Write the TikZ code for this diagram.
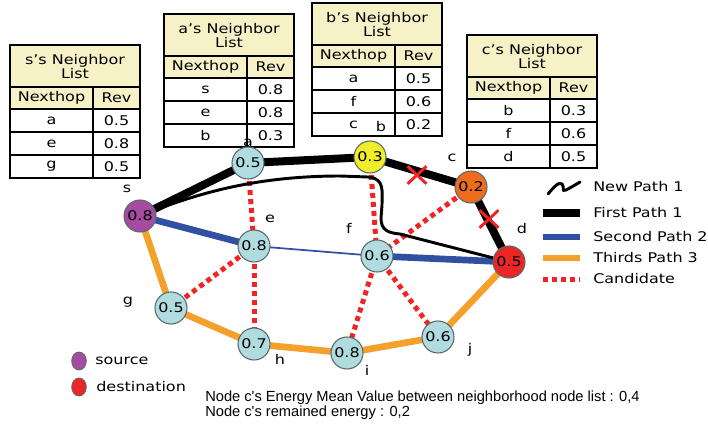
\documentclass[tikz,border=0pt]{standalone}
\usepackage{fontspec}
\setmainfont{DejaVu Sans}[FakeStretch=1.2]
\newfontfamily\notefont{Liberation Sans}
\usepackage{tikz}
\usetikzlibrary{shapes.geometric, shapes.misc, backgrounds, calc}
\definecolor{nodeblue}{HTML}{B0DCE0}
\definecolor{ndline}{HTML}{5A6A6C}
\definecolor{srcpurple}{HTML}{A64CA0}
\definecolor{hopyellow}{HTML}{F0EE2A}
\definecolor{hoporange}{HTML}{EE6C1E}
\definecolor{dstred}{HTML}{EA2626}
\definecolor{pathblue}{HTML}{3050A2}
\definecolor{pathorange}{HTML}{F5A02A}
\definecolor{candred}{HTML}{F02424}
\definecolor{tblhead}{HTML}{F6F1C6}
\newcommand{\nbfont}{\fontsize{10}{10.5}\selectfont}
\tikzset{
  nd/.style={
    circle, minimum size=24pt, inner sep=0pt,
    draw=ndline, line width=0.8pt,
    fill=nodeblue, font=\nbfont,
  },
  lbl/.style={font=\nbfont, inner sep=0pt},
  legtext/.style={font=\nbfont, inner sep=0pt, anchor=west},
  firstpath/.style={line width=6pt, black},
  newpath/.style={line width=2.2pt, black, line cap=round},
  secondpath/.style={line width=5pt, pathblue},
  secondthin/.style={line width=1.3pt, pathblue},
  thirdpath/.style={line width=5pt, pathorange},
  candidate/.style={line width=3.75pt, candred, dash pattern=on 3.75pt off 3pt},
  cutmark/.style={cross out, draw=candred, line width=2.2pt,
    minimum width=12pt, minimum height=11pt, inner sep=0pt},
  tblline/.style={line width=1pt, black},
  tbltext/.style={font=\nbfont, inner sep=0pt},
  keydot/.style={ellipse, minimum width=11pt, minimum height=13.5pt,
    inner sep=0pt, draw=ndline, line width=0.6pt},
}
% neighbor list table: owner, x, y, rows
\newcommand{\nblist}[4]{%
  \begin{scope}[shift={(#2,#3)}]
    \draw[tblline, fill=tblhead] (0,0) rectangle (130,64);
    \draw[tblline, fill=white] (0,64) rectangle (130,133);
    \draw[tblline] (0,42) -- (130,42);
    \draw[tblline] (83,42) -- (83,133);
    \foreach \k in {1,2} \draw[tblline] (0,64+23*\k) -- (130,64+23*\k);
    \draw[line width=1.4pt] (0,0) rectangle (130,133);
    \node[tbltext, align=center] (#1title) at (65,22) {#1’s Neighbor\\List};
    \node[tbltext] (#1hop) at (41.5,53) {Nexthop};
    \node[tbltext] (#1rev) at (106.5,53) {Rev};
    \foreach \hp/\rv [count=\k] in {#4} {
      \node[tbltext] (#1hop\k) at (41.5,64+23*\k-11.5) {\hp};
      \node[tbltext] (#1rev\k) at (106.5,64+23*\k-11.5) {\rv};
    }
  \end{scope}}

\begin{document}
\begin{tikzpicture}[x=0.75pt, y=-0.75pt]
  \useasboundingbox (0,0) rectangle (708,426);

  % neighbor lists
  \nblist{s}{10}{45}{a/0.5, e/0.8, g/0.5}
  \nblist{a}{164}{14}{s/0.8, e/0.8, b/0.3}
  \nblist{b}{312}{3}{a/0.5, f/0.6, c/0.2}
  \nblist{c}{467}{35}{b/0.3, f/0.6, d/0.5}

  % sensor nodes
  \node[nd, fill=srcpurple] (s) at (140,216) {0.8};
  \node[nd] (a) at (248,163) {0.5};
  \node[nd, fill=hopyellow] (b) at (370,157) {0.3};
  \node[nd, fill=hoporange] (c) at (471,187) {0.2};
  \node[nd, fill=dstred] (d) at (509,262) {0.5};
  \node[nd] (e) at (254,246) {0.8};
  \node[nd] (f) at (377,256) {0.6};
  \node[nd] (g) at (171,308) {0.5};
  \node[nd] (h) at (254,344) {0.7};
  \node[nd] (i) at (347,353) {0.8};
  \node[nd] (j) at (438,337) {0.6};

  \node[lbl] (ls) at (127,189) {s};
  \node[lbl] (la) at (248,143) {a};
  \node[lbl] (lb) at (381,127) {b};
  \node[lbl] (lc) at (452,158) {c};
  \node[lbl] (ld) at (522,229) {d};
  \node[lbl] (le) at (270,219) {e};
  \node[lbl] (lf) at (349,228) {f};
  \node[lbl] (lg) at (128,302) {g};
  \node[lbl] (lh) at (280,359) {h};
  \node[lbl] (li) at (367,370) {i};
  \node[lbl] (lj) at (470,350) {j};

  \begin{scope}[on background layer]
    % candidates
    \foreach \u/\v in {a/e, e/g, e/h, b/f, c/f, f/i, f/j}
      \draw[candidate] (\u.center) -- (\v.center);
    % third path
    \draw[thirdpath, line join=round] (s.center) -- (g.center) -- (h.center)
      -- (i.center) -- (j.center) -- (d.center);
    % second path
    \draw[secondpath] (s.center) -- (e.center);
    \draw[secondthin] (e.center) -- (f.center);
    \draw[secondpath] (f.center) -- (d.center);
    % first path
    \draw[firstpath, line join=round] (s.center) -- (a.center) -- (b.center)
      -- (c.center) -- (d.center);
    % new path
    \draw[newpath] (s.center) .. controls (190,196) and (250,176) .. (340,176)
      -- (368,177) .. controls (385,178) and (382,192) .. (382,205)
      -- (381,218) .. controls (381,230) and (388,233) .. (400,234) -- (d.center);
  \end{scope}

  % broken links
  \node[cutmark] (cutbc) at (417,175) {};
  \node[cutmark] (cutcd) at (489,219) {};

  % legend
  \coordinate (nw1) at (548,194);
  \coordinate (nw2) at (580,182);
  \draw[newpath] (nw1) .. controls (553,188) and (559,181) .. (562,184)
    .. controls (565,187) and (561,192) .. (566,190)
    .. controls (570,188) and (575,185) .. (nw2);
  \node[legtext] (kt0) at (593,187) {New Path 1};
  \foreach \sty/\yy/\txt [count=\k] in {firstpath/213/First Path 1,
      secondpath/237/Second Path 2, thirdpath/258/Thirds Path 3,
      candidate/279/Candidate} {
    \coordinate (kl\k) at (543,\yy);
    \coordinate (kr\k) at (580,\yy);
    \draw[\sty] (kl\k) -- (kr\k);
    \node[legtext] (kt\k) at (593,\yy) {\txt};
  }

  \node[keydot, fill=srcpurple] (srcmark) at (79,361) {};
  \node[legtext] (srctext) at (95,361) {source};
  \node[keydot, fill=dstred] (dstmark) at (79,387) {};
  \node[legtext] (dsttext) at (96,387) {destination};

  % energy note
  \node[anchor=west, align=left, inner sep=0pt,
    font=\notefont\fontsize{11}{11.3}\selectfont] (note) at (205,405)
    {Node c's Energy Mean Value between neighborhood node list : 0,4\\
     Node c's remained energy : 0,2};

\end{tikzpicture}
\end{document}
